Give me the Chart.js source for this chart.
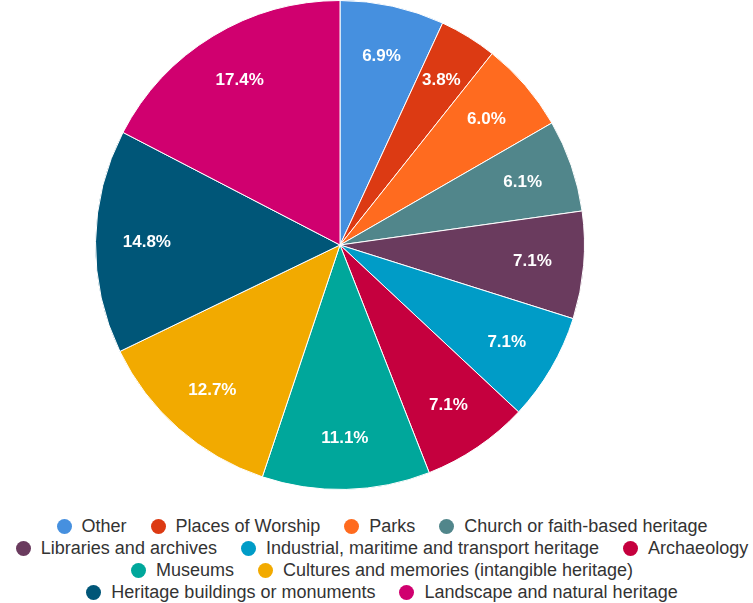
<!DOCTYPE html>
<html>
<head>
<meta charset="utf-8">
<script src="https://cdn.jsdelivr.net/npm/chart.js@4"></script>
<style>
  body { margin: 0; width: 753px; height: 603px; background: #fff; position: relative; overflow: hidden; }
  #pieWrap { position: absolute; left: 0; top: 0; width: 680px; height: 490px; }
  #legend { position: absolute; left: 0; top: 515px; width: 764px; font: 18px "Liberation Sans", Arial, sans-serif; color: #333; }
  .row { display: flex; justify-content: center; height: 22px; line-height: 22px; white-space: nowrap; }
  .item { display: flex; align-items: center; margin: 0 12px; }
  .dot { width: 15px; height: 15px; border-radius: 50%; margin-right: 10px; }
</style>
</head>
<body>
<div id="pieWrap"><canvas id="pieChart"></canvas></div>
<div id="legend"></div>

<script>
// --- data ---
const categories = [
  "Other",
  "Places of Worship",
  "Parks",
  "Church or faith-based heritage",
  "Libraries and archives",
  "Industrial, maritime and transport heritage",
  "Archaeology",
  "Museums",
  "Cultures and memories (intangible heritage)",
  "Heritage buildings or monuments",
  "Landscape and natural heritage"
];
const shares = [6.9, 3.8, 6.0, 6.1, 7.1, 7.1, 7.1, 11.1, 12.7, 14.8, 17.4];
const colors = [
  "#4690df", "#dc3a13", "#ff6b1f", "#51868b", "#6a3b5e", "#009cc7",
  "#c5003e", "#00a79b", "#f2aa00", "#005678", "#d0006f"
];
// legend rows as laid out in the original
const legendRows = [[0, 1, 2, 3], [4, 5, 6], [7, 8], [9, 10]];

// --- slice labels ---
const sliceLabels = {
  id: "sliceLabels",
  afterDatasetsDraw(chart) {
    const ctx = chart.ctx;
    const arcs = chart.getDatasetMeta(0).data;
    ctx.save();
    ctx.fillStyle = "#fff";
    ctx.font = "bold 17px 'Liberation Sans', Arial, sans-serif";
    ctx.textAlign = "center";
    ctx.textBaseline = "middle";
    arcs.forEach((arc, i) => {
      const mid = (arc.startAngle + arc.endAngle) / 2;
      const r = arc.outerRadius * 0.79;
      ctx.fillText(shares[i].toFixed(1) + "%", arc.x + Math.cos(mid) * r, arc.y + Math.sin(mid) * r);
    });
    ctx.restore();
  }
};

new Chart(document.getElementById("pieChart"), {
  type: "pie",
  data: {
    labels: categories,
    datasets: [{
      data: shares,
      backgroundColor: colors,
      borderColor: "#fff",
      borderWidth: 1
    }]
  },
  options: {
    responsive: true,
    maintainAspectRatio: false,
    animation: false,
    layout: { padding: 0 },
    plugins: {
      legend: { display: false },
      tooltip: { enabled: false }
    }
  },
  plugins: [sliceLabels]
});

// --- legend ---
const legend = document.getElementById("legend");
legendRows.forEach(row => {
  const rowEl = document.createElement("div");
  rowEl.className = "row";
  row.forEach(i => {
    const item = document.createElement("div");
    item.className = "item";
    const dot = document.createElement("span");
    dot.className = "dot";
    dot.style.background = colors[i];
    const txt = document.createElement("span");
    txt.textContent = categories[i];
    item.appendChild(dot);
    item.appendChild(txt);
    rowEl.appendChild(item);
  });
  legend.appendChild(rowEl);
});
</script>
</body>
</html>
